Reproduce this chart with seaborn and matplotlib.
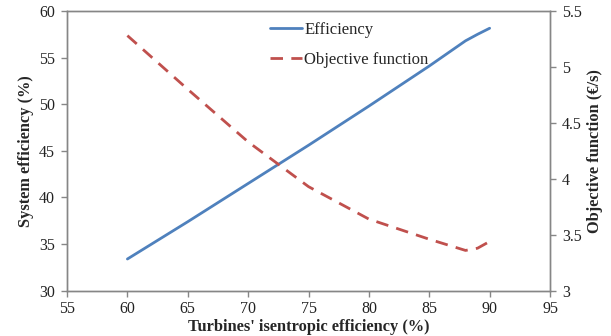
import matplotlib
matplotlib.use("Agg")
import matplotlib.pyplot as plt
import seaborn as sns
import pandas as pd

turbine_eff = [60, 65, 70, 75, 80, 85, 87, 88, 89, 90]
system_eff = [33.4, 37.4, 41.5, 45.6, 49.8, 54.1, 55.9, 56.8, 57.5, 58.15]

turbine_eff_obj = [60, 65, 70, 75, 80, 85, 88, 89, 90]
objective = [5.28, 4.80, 4.33, 3.93, 3.64, 3.46, 3.36, 3.38, 3.44]

sns.set_style("white")
plt.rcParams['font.family'] = ['Liberation Serif', 'DejaVu Serif']

BLUE = "#4F81BD"
RED = "#C0504D"
GRAY = "#868686"

fig = plt.figure(figsize=(6.11, 3.36), dpi=100)
ax = fig.add_axes([0.1097, 0.1348, 0.7905, 0.8325])
ax2 = ax.twinx()

df1 = pd.DataFrame({"x": turbine_eff, "y": system_eff})
df2 = pd.DataFrame({"x": turbine_eff_obj, "y": objective})

sns.lineplot(data=df1, x="x", y="y", ax=ax, color=BLUE, lw=2.0, label="Efficiency", legend=False)
sns.lineplot(data=df2, x="x", y="y", ax=ax2, color=RED, lw=2.0, label="Objective function", legend=False)
ax2.lines[0].set_dashes([4.5, 3])

ax.set_xlim(55, 95)
ax.set_ylim(30, 60)
ax2.set_ylim(3, 5.5)
ax.set_xticks(range(55, 96, 5))
ax.set_yticks(range(30, 61, 5))
ax2.set_yticks([3, 3.5, 4, 4.5, 5, 5.5])
ax2.set_yticklabels(["3", "3.5", "4", "4.5", "5", "5.5"])

ax.set_xlabel("Turbines' isentropic efficiency (%)", fontsize=11.8, fontweight="bold", labelpad=1)
ax.set_ylabel("System efficiency (%)", fontsize=11.8, fontweight="bold", labelpad=4)
ax2.set_ylabel("Objective function (€/s)", fontsize=11.8, fontweight="bold", labelpad=4)

for a in (ax, ax2):
    for s in a.spines.values():
        s.set_color(GRAY)
        s.set_linewidth(1.0)
    a.tick_params(axis="both", direction="out", length=4, width=1, color=GRAY,
                  labelsize=11.5, labelcolor="#222222", pad=4.5)
ax.tick_params(axis="x", pad=3.5)
ax.tick_params(axis="y", left=True, right=False)
ax.tick_params(axis="x", bottom=True)
ax2.tick_params(axis="y", right=True, left=False)

handles = ax.get_lines()[:1] + ax2.get_lines()[:1]
ax.legend(handles, ["Efficiency", "Objective function"], loc="upper left",
          bbox_to_anchor=(0.42, 0.962), frameon=False, fontsize=12,
          borderpad=0, borderaxespad=0,
          handlelength=1.9, handletextpad=0.15, labelspacing=0.85)

fig.savefig("out.png", dpi=100)
